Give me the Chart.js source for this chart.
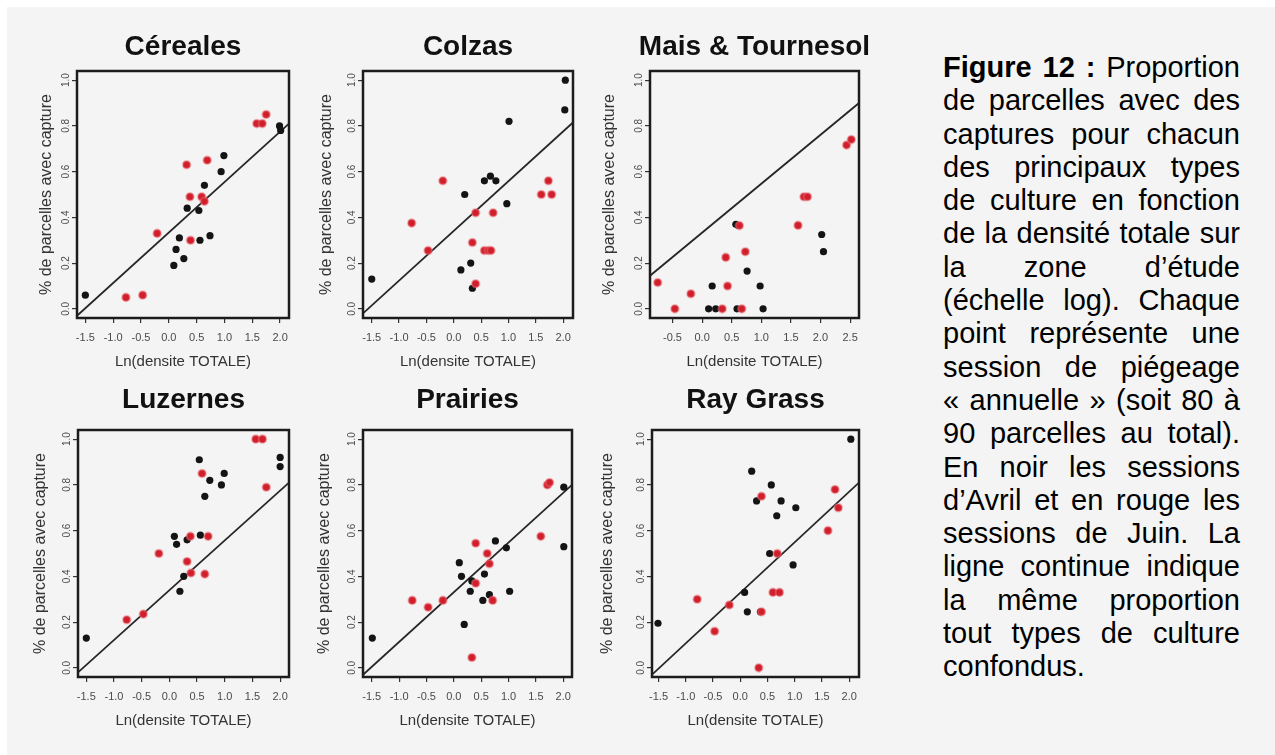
<!DOCTYPE html>
<html>
<head>
<meta charset="utf-8">
<script src="https://cdn.jsdelivr.net/npm/chart.js@4.4.1/dist/chart.umd.min.js"></script>
<style>
  html, body { margin: 0; padding: 0; background: #ffffff; width: 1275px; height: 755px; overflow: hidden; }
  #page { position: absolute; left: 7px; top: 7px; width: 1268px; height: 748px; background: #f4f4f4; }
  canvas { position: absolute; }
  #caption { position: absolute; left: 943px; top: 51px; width: 297px;
    font-family: "Liberation Sans", Arial, sans-serif; font-size: 29px; line-height: 33.3px; color: #000; }
  #caption div { text-align: justify; text-align-last: justify; }
  #caption div.last { text-align: left; text-align-last: left; }
</style>
</head>
<body>
<div id="page"></div>
<div id="caption">
  <div><b>Figure 12 :</b> Proportion</div>
  <div>de parcelles avec des</div>
  <div>captures pour chacun</div>
  <div>des principaux types</div>
  <div>de culture en fonction</div>
  <div>de la densité totale sur</div>
  <div>la zone d’étude</div>
  <div>(échelle log). Chaque</div>
  <div>point représente une</div>
  <div>session de piégeage</div>
  <div>« annuelle » (soit 80 à</div>
  <div>90 parcelles au total).</div>
  <div>En noir les sessions</div>
  <div>d’Avril et en rouge les</div>
  <div>sessions de Juin. La</div>
  <div>ligne continue indique</div>
  <div>la même proportion</div>
  <div>tout types de culture</div>
  <div class="last">confondus.</div>
</div>
<script>
// ---------- tick values & labels ----------
const xTicksStd = [-1.5, -1.0, -0.5, 0.0, 0.5, 1.0, 1.5, 2.0];
const xLabelsStd = ['-1.5', '-1.0', '-0.5', '0.0', '0.5', '1.0', '1.5', '2.0'];
const xTicksMais = [-0.5, 0.0, 0.5, 1.0, 1.5, 2.0, 2.5];
const xLabelsMais = ['-0.5', '0.0', '0.5', '1.0', '1.5', '2.0', '2.5'];
const yTicks = [0.0, 0.2, 0.4, 0.6, 0.8, 1.0];
const yLabels = ['0.0', '0.2', '0.4', '0.6', '0.8', '1.0'];

// ---------- Céreales ----------
const cerealesAvrilX = [-1.5, 0.09, 0.13, 0.19, 0.27, 0.33, 0.54, 0.56, 0.64, 0.74, 0.94, 0.99, 1.99, 2.01];
const cerealesAvrilY = [0.06, 0.19, 0.26, 0.31, 0.22, 0.44, 0.43, 0.30, 0.54, 0.32, 0.60, 0.67, 0.80, 0.78];
const cerealesJuinX = [-0.77, -0.47, -0.21, 0.32, 0.38, 0.39, 0.59, 0.64, 0.69, 1.58, 1.68, 1.75];
const cerealesJuinY = [0.05, 0.06, 0.33, 0.63, 0.49, 0.30, 0.49, 0.47, 0.65, 0.81, 0.81, 0.85];
const cerealesLineX = [-1.65, 2.16];
const cerealesLineY = [-0.03, 0.81];

// ---------- Colzas ----------
const colzasAvrilX = [-1.5, 0.13, 0.20, 0.31, 0.34, 0.56, 0.67, 0.77, 0.97, 1.01, 2.03, 2.04];
const colzasAvrilY = [0.13, 0.17, 0.50, 0.20, 0.09, 0.56, 0.58, 0.56, 0.46, 0.82, 0.87, 1.00];
const colzasJuinX = [-0.77, -0.47, -0.20, 0.34, 0.40, 0.40, 0.56, 0.63, 0.68, 0.72, 1.60, 1.73, 1.79];
const colzasJuinY = [0.375, 0.255, 0.56, 0.29, 0.11, 0.42, 0.255, 0.255, 0.255, 0.42, 0.50, 0.56, 0.50];
const colzasLineX = [-1.66, 2.18];
const colzasLineY = [-0.02, 0.815];

// ---------- Mais & Tournesol ----------
const maisAvrilX = [0.11, 0.17, 0.23, 0.57, 0.59, 0.61, 0.76, 0.98, 1.03, 2.02, 2.05];
const maisAvrilY = [0.0, 0.10, 0.0, 0.37, 0.0, 0.365, 0.165, 0.10, 0.0, 0.325, 0.25];
const maisJuinX = [-0.75, -0.46, -0.19, 0.34, 0.40, 0.43, 0.63, 0.67, 0.73, 1.62, 1.72, 1.78, 2.44, 2.52];
const maisJuinY = [0.115, 0.0, 0.066, 0.0, 0.225, 0.10, 0.364, 0.0, 0.25, 0.365, 0.49, 0.49, 0.716, 0.74];
const maisLineX = [-0.88, 2.65];
const maisLineY = [0.145, 0.90];

// ---------- Luzernes ----------
const luzernesAvrilX = [-1.5, 0.09, 0.13, 0.19, 0.26, 0.32, 0.54, 0.56, 0.64, 0.73, 0.94, 0.99, 2.0, 2.0];
const luzernesAvrilY = [0.13, 0.575, 0.54, 0.335, 0.40, 0.56, 0.91, 0.58, 0.75, 0.82, 0.80, 0.85, 0.92, 0.88];
const luzernesJuinX = [-0.77, -0.47, -0.19, 0.32, 0.38, 0.39, 0.59, 0.64, 0.70, 1.56, 1.68, 1.75];
const luzernesJuinY = [0.21, 0.235, 0.50, 0.465, 0.575, 0.415, 0.85, 0.41, 0.575, 1.0, 1.0, 0.79];
const luzernesLineX = [-1.65, 2.16];
const luzernesLineY = [-0.02, 0.81];

// ---------- Prairies ----------
const prairiesAvrilX = [-1.49, 0.10, 0.14, 0.19, 0.30, 0.33, 0.53, 0.56, 0.65, 0.76, 0.96, 1.02, 2.01, 2.01];
const prairiesAvrilY = [0.13, 0.46, 0.40, 0.19, 0.335, 0.38, 0.295, 0.41, 0.32, 0.555, 0.525, 0.335, 0.79, 0.53];
const prairiesJuinX = [-0.76, -0.47, -0.20, 0.33, 0.40, 0.40, 0.61, 0.65, 0.71, 1.59, 1.71, 1.75];
const prairiesJuinY = [0.295, 0.265, 0.295, 0.045, 0.545, 0.37, 0.50, 0.455, 0.295, 0.575, 0.80, 0.81];
const prairiesLineX = [-1.66, 2.16];
const prairiesLineY = [-0.03, 0.80];

// ---------- Ray Grass ----------
const rayAvrilX = [-1.51, 0.08, 0.13, 0.21, 0.30, 0.37, 0.54, 0.57, 0.67, 0.75, 0.97, 1.02, 2.03];
const rayAvrilY = [0.195, 0.33, 0.245, 0.86, 0.73, 0.245, 0.50, 0.80, 0.665, 0.73, 0.45, 0.70, 1.0];
const rayJuinX = [-0.79, -0.47, -0.20, 0.34, 0.39, 0.39, 0.60, 0.68, 0.72, 1.61, 1.74, 1.80];
const rayJuinY = [0.30, 0.16, 0.275, 0.0, 0.75, 0.245, 0.33, 0.50, 0.33, 0.60, 0.78, 0.70];
const rayLineX = [-1.62, 2.18];
const rayLineY = [-0.03, 0.81];

// ---------- layout / style ----------
const FONT = "'Liberation Sans', Arial, sans-serif";
const L = 62;           // space left of plot box (mirrored on the right so titles centre on the box)
const XSCALE_H = 62;    // height of x-axis block

const panels = [
  { title: 'Céreales', row: 0, box: [77, 71, 289, 318], xr: [-1.65, 2.16], xt: xTicksStd, xl: xLabelsStd,
    ax: cerealesAvrilX, ay: cerealesAvrilY, jx: cerealesJuinX, jy: cerealesJuinY, lx: cerealesLineX, ly: cerealesLineY, yTitleX: 47 },
  { title: 'Colzas', row: 0, box: [363, 71, 573, 318], xr: [-1.66, 2.18], xt: xTicksStd, xl: xLabelsStd,
    ax: colzasAvrilX, ay: colzasAvrilY, jx: colzasJuinX, jy: colzasJuinY, lx: colzasLineX, ly: colzasLineY, yTitleX: 327 },
  { title: 'Mais & Tournesol', row: 0, box: [650, 71, 859, 318], xr: [-0.88, 2.65], xt: xTicksMais, xl: xLabelsMais,
    ax: maisAvrilX, ay: maisAvrilY, jx: maisJuinX, jy: maisJuinY, lx: maisLineX, ly: maisLineY, yTitleX: 610 },
  { title: 'Luzernes', row: 1, box: [78, 430, 289, 677], xr: [-1.65, 2.16], xt: xTicksStd, xl: xLabelsStd,
    ax: luzernesAvrilX, ay: luzernesAvrilY, jx: luzernesJuinX, jy: luzernesJuinY, lx: luzernesLineX, ly: luzernesLineY, yTitleX: 41 },
  { title: 'Prairies', row: 1, box: [363, 430, 572, 677], xr: [-1.66, 2.16], xt: xTicksStd, xl: xLabelsStd,
    ax: prairiesAvrilX, ay: prairiesAvrilY, jx: prairiesJuinX, jy: prairiesJuinY, lx: prairiesLineX, ly: prairiesLineY, yTitleX: 325 },
  { title: 'Ray Grass', row: 1, box: [652, 430, 859, 677], xr: [-1.62, 2.18], xt: xTicksStd, xl: xLabelsStd,
    ax: rayAvrilX, ay: rayAvrilY, jx: rayJuinX, jy: rayJuinY, lx: rayLineX, ly: rayLineY, yTitleX: 608 }
];
const rows = [
  { top: 7, titleY: 47, xTitleY: 362 },
  { top: 360, titleY: 400, xTitleY: 721 }
];

const zip = (xs, ys) => xs.map((x, i) => ({ x: x, y: ys[i] }));

const framePlugin = {
  id: 'frame',
  afterDraw(chart) {
    const ctx = chart.ctx, a = chart.chartArea;
    ctx.save();
    ctx.strokeStyle = '#1c1c1c';
    ctx.lineWidth = 2.5;
    ctx.strokeRect(a.left, a.top, a.right - a.left, a.bottom - a.top);
    // rotated y tick labels (R style)
    const ys = chart.scales.y;
    ctx.fillStyle = '#4a4a4a';
    ctx.font = '10px ' + FONT;
    ctx.textAlign = 'center';
    ctx.textBaseline = 'middle';
    yTicks.forEach((v, i) => {
      const py = ys.getPixelForValue(v);
      ctx.save();
      ctx.translate(a.left - 11, py);
      ctx.rotate(-Math.PI / 2);
      ctx.fillText(yLabels[i], 0, 0);
      ctx.restore();
    });
    ctx.restore();
  }
};

panels.forEach(p => {
  const r = rows[p.row];
  const [bl, bt, br, bb] = p.box;
  const W = (br - bl) + 2 * L;
  const H = (bb - r.top) + XSCALE_H;
  const cv = document.createElement('canvas');
  cv.width = W; cv.height = H;
  cv.style.left = (bl - L) + 'px';
  cv.style.top = r.top + 'px';
  cv.style.width = W + 'px';
  cv.style.height = H + 'px';
  document.body.appendChild(cv);

  const titleFont = 28, titleLH = titleFont * 1.2;
  const tPadTop = r.titleY - r.top - titleLH / 2;
  const tPadBottom = bt - r.top - tPadTop - titleLH;
  const yTitleLH = 16 * 1.2;
  const yPadTop = (p.yTitleX - (bl - L)) - yTitleLH / 2;
  const xTitleLH = 15 * 1.2;
  const xPadBottom = (bb + XSCALE_H) - r.xTitleY - xTitleLH / 2;

  new Chart(cv, {
    data: {
      datasets: [
        { type: 'line', data: zip(p.lx, p.ly), borderColor: '#262626', borderWidth: 1.8,
          pointRadius: 0, fill: false, tension: 0, order: 3 },
        { type: 'scatter', data: zip(p.ax, p.ay), backgroundColor: '#141414', borderWidth: 0,
          pointRadius: 3.6, order: 2 },
        { type: 'scatter', data: zip(p.jx, p.jy), backgroundColor: '#d01f2b', borderColor: 'rgba(232,110,120,0.45)',
          borderWidth: 2, pointRadius: 3.8, order: 1 }
      ]
    },
    options: {
      responsive: false,
      animation: false,
      devicePixelRatio: 1,
      layout: { padding: 0 },
      plugins: {
        legend: { display: false },
        tooltip: { enabled: false },
        title: { display: true, text: p.title, color: '#111',
          font: { family: FONT, size: titleFont, weight: 'bold', lineHeight: 1.2 },
          padding: { top: tPadTop, bottom: tPadBottom } }
      },
      scales: {
        x: {
          type: 'linear', position: 'bottom', min: p.xr[0], max: p.xr[1],
          afterBuildTicks: s => { s.ticks = p.xt.map(v => ({ value: v })); },
          afterFit: s => { s.height = XSCALE_H; },
          ticks: { autoSkip: false, maxRotation: 0, minRotation: 0, padding: 8, color: '#4a4a4a',
            font: { family: FONT, size: 11 }, callback: (v, i) => p.xl[i] },
          grid: { display: true, drawOnChartArea: false, drawTicks: true, tickLength: 5, color: '#333', lineWidth: 1.2 },
          border: { display: false },
          title: { display: true, text: 'Ln(densite TOTALE)', color: '#333',
            font: { family: FONT, size: 15, lineHeight: 1.2 }, padding: { top: 0, bottom: xPadBottom } }
        },
        y: {
          type: 'linear', position: 'left', min: -0.04, max: 1.04,
          afterBuildTicks: s => { s.ticks = yTicks.map(v => ({ value: v })); },
          afterFit: s => { s.width = L; },
          ticks: { display: false },
          grid: { display: true, drawOnChartArea: false, drawTicks: true, tickLength: 5, color: '#333', lineWidth: 1.2 },
          border: { display: false },
          title: { display: true, text: '% de parcelles avec capture', color: '#333',
            font: { family: FONT, size: 16, lineHeight: 1.2 }, padding: { top: yPadTop, bottom: 0 } }
        },
        // empty mirror axis on the right: reserves the same width as the left axis so the title centres on the plot box
        yMirror: {
          type: 'linear', position: 'right', min: -0.04, max: 1.04,
          afterFit: s => { s.width = L; },
          ticks: { display: false },
          grid: { display: false, drawTicks: false },
          border: { display: false },
          title: { display: false }
        }
      }
    },
    plugins: [framePlugin]
  });
});
</script>
</body>
</html>
